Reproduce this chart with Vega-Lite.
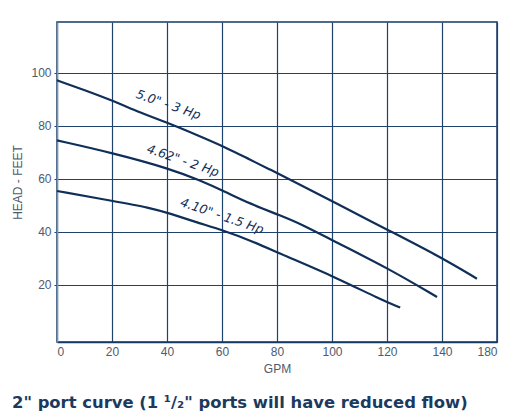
{
  "$schema": "https://vega.github.io/schema/vega-lite/v6.json",
  "width": 440,
  "height": 320,
  "autosize": "none",
  "padding": {"left": 57, "top": 22, "right": 17, "bottom": 76},
  "background": "#ffffff",
  "config": {
    "view": {"stroke": "#143864", "strokeWidth": 1.5},
    "font": "Liberation Sans"
  },
  "title": {
    "text": "2\" port curve (1 ¹/₂\" ports will have reduced flow)",
    "orient": "bottom",
    "anchor": "start",
    "font": "DejaVu Sans",
    "fontWeight": "bold",
    "fontSize": 16.4,
    "color": "#1c3a5e",
    "offset": 21
  },
  "datasets": {
    "curves": [
      {"series": "5.0", "gpm": 0, "head": 97.2},
      {"series": "5.0", "gpm": 10, "head": 93.5},
      {"series": "5.0", "gpm": 20.5, "head": 89.4},
      {"series": "5.0", "gpm": 30.2, "head": 85.0},
      {"series": "5.0", "gpm": 41.1, "head": 80.8},
      {"series": "5.0", "gpm": 51, "head": 76.5},
      {"series": "5.0", "gpm": 61.1, "head": 72.0},
      {"series": "5.0", "gpm": 70.2, "head": 67.2},
      {"series": "5.0", "gpm": 77.5, "head": 63.5},
      {"series": "5.0", "gpm": 84.8, "head": 59.7},
      {"series": "5.0", "gpm": 101.8, "head": 50.6},
      {"series": "5.0", "gpm": 121.2, "head": 40.2},
      {"series": "5.0", "gpm": 139.4, "head": 30.5},
      {"series": "5.0", "gpm": 152.7, "head": 22.3},
      {"series": "4.62", "gpm": 0, "head": 74.5},
      {"series": "4.62", "gpm": 20.5, "head": 69.7},
      {"series": "4.62", "gpm": 41.1, "head": 63.8},
      {"series": "4.62", "gpm": 52, "head": 59.4},
      {"series": "4.62", "gpm": 61, "head": 55.2},
      {"series": "4.62", "gpm": 70.2, "head": 50.6},
      {"series": "4.62", "gpm": 81.1, "head": 46.2},
      {"series": "4.62", "gpm": 88.4, "head": 43.1},
      {"series": "4.62", "gpm": 101.2, "head": 36.2},
      {"series": "4.62", "gpm": 120.6, "head": 26.1},
      {"series": "4.62", "gpm": 138.2, "head": 15.4},
      {"series": "4.10", "gpm": 0, "head": 55.4},
      {"series": "4.10", "gpm": 20.5, "head": 51.6},
      {"series": "4.10", "gpm": 33.8, "head": 49.1},
      {"series": "4.10", "gpm": 41.1, "head": 46.9},
      {"series": "4.10", "gpm": 50, "head": 43.8},
      {"series": "4.10", "gpm": 61.1, "head": 40.3},
      {"series": "4.10", "gpm": 70.2, "head": 36.8},
      {"series": "4.10", "gpm": 82.3, "head": 31.2},
      {"series": "4.10", "gpm": 101.2, "head": 22.9},
      {"series": "4.10", "gpm": 117.5, "head": 14.5},
      {"series": "4.10", "gpm": 124.8, "head": 11.4}
    ],
    "labels": [
      {"label": "5.0\" - 3 Hp", "gpm": 39.8, "head": 85.8},
      {"label": "4.62\" - 2 Hp", "gpm": 45.1, "head": 64.7},
      {"label": "4.10\" - 1.5 Hp", "gpm": 59.3, "head": 43.8}
    ]
  },
  "encoding": {
    "x": {
      "field": "gpm",
      "type": "quantitative",
      "scale": {"domain": [0, 160], "nice": false},
      "axis": {
        "title": "GPM",
        "values": [0, 20, 40, 60, 80, 100, 120, 140, 160],
        "labelExpr": "datum.value == 160 ? '180' : datum.label",
        "grid": true,
        "gridColor": "#1f426c",
        "gridWidth": 1.2,
        "domainColor": "#143864",
        "domainWidth": 1.5,
        "ticks": false,
        "labelPadding": 4,
        "labelFontSize": 12,
        "labelColor": "#4e5a6e",
        "labelFont": "Liberation Sans",
        "titleFont": "Liberation Sans",
        "titleFontWeight": "normal",
        "titleFontSize": 12,
        "titleColor": "#4e5a6e",
        "titlePadding": 6
      }
    },
    "y": {
      "field": "head",
      "type": "quantitative",
      "scale": {"domain": [-1.6, 119.2], "nice": false, "zero": false},
      "axis": {
        "title": "HEAD - FEET",
        "values": [20, 40, 60, 80, 100],
        "grid": true,
        "gridColor": "#1f426c",
        "gridWidth": 1.2,
        "domainColor": "#8094ae",
        "domainWidth": 1.5,
        "ticks": true,
        "tickSize": 3,
        "tickColor": "#1f426c",
        "labelPadding": 3,
        "labelFontSize": 12,
        "labelColor": "#4e5a6e",
        "labelFont": "Liberation Sans",
        "titleFont": "Liberation Sans",
        "titleFontWeight": "normal",
        "titleFontSize": 12,
        "titleColor": "#4e5a6e",
        "titlePadding": 6
      }
    }
  },
  "layer": [
    {
      "data": {"name": "curves"},
      "mark": {"type": "line", "interpolate": "basis", "color": "#0f2f58", "strokeWidth": 2.2},
      "encoding": {"detail": {"field": "series"}}
    },
    {
      "data": {"name": "labels"},
      "mark": {"type": "text", "angle": 19, "font": "DejaVu Sans", "fontStyle": "italic", "fontSize": 12.5, "color": "#112f58", "baseline": "middle", "dy": -6},
      "encoding": {"text": {"field": "label"}}
    }
  ]
}
